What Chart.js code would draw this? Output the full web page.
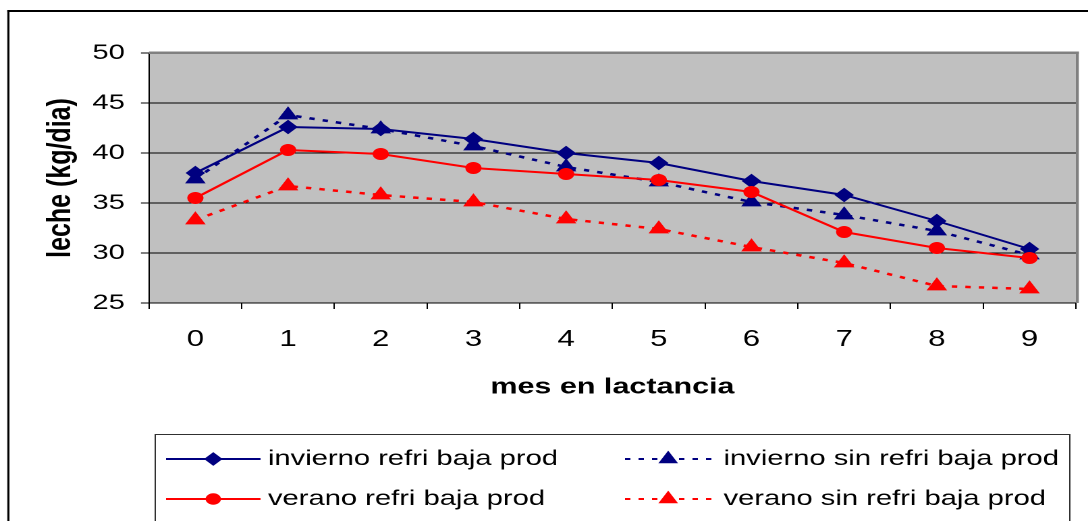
<!DOCTYPE html>
<html>
<head>
<meta charset="utf-8">
<script src="https://cdn.jsdelivr.net/npm/chart.js@4/dist/chart.umd.min.js"></script>
<style>
  html, body { margin: 0; padding: 0; background: #fff; overflow: hidden; }
  /* la imagen original esta estirada en horizontal */
  #marco { position: absolute; left: 0; top: 0; width: 806px; height: 521px;
           transform: scaleX(1.3499); transform-origin: 0 0; }
</style>
</head>
<body>
<div id="marco"><canvas id="graficoLeche"></canvas></div>
<script>
// Datos del grafico
const meses = ['0', '1', '2', '3', '4', '5', '6', '7', '8', '9'];
const inviernoRefri = [38.0, 42.6, 42.4, 41.4, 40.0, 39.0, 37.2, 35.8, 33.2, 30.4];
const inviernoSinRefri = [37.4, 43.8, 42.4, 40.7, 38.6, 37.1, 35.1, 33.8, 32.2, 29.8];
const veranoRefri = [35.5, 40.3, 39.9, 38.5, 37.9, 37.3, 36.1, 32.1, 30.5, 29.5];
const veranoSinRefri = [33.3, 36.7, 35.8, 35.1, 33.4, 32.4, 30.6, 29.0, 26.7, 26.4];
const etiquetasSerie = ['invierno refri baja prod', 'invierno sin refri baja prod',
                        'verano refri baja prod', 'verano sin refri baja prod'];

const AZUL = '#000080';
const ROJO = '#FF0000';
const FUENTE = "'Liberation Sans', Arial, sans-serif";

// fondo gris del area de trazado y marco exterior
const fondoPlugin = {
  id: 'fondo',
  beforeDraw(chart) {
    const { ctx, chartArea: a } = chart;
    ctx.save();
    ctx.fillStyle = '#C0C0C0';
    ctx.fillRect(a.left, a.top, a.right - a.left, a.bottom - a.top);
    ctx.fillStyle = '#000';
    ctx.fillRect(5.4, 10, 1.6, 600);
    ctx.fillRect(5.4, 10, 900, 2);
    ctx.restore();
  },
  afterDraw(chart) {
    const { ctx, chartArea: a } = chart;
    ctx.save();
    ctx.fillStyle = '#808080';
    ctx.fillRect(a.left, a.top - 1.5, a.right - a.left + 2.2, 2.5);
    ctx.fillRect(a.right, a.top - 1.5, 2.2, a.bottom - a.top + 1.5);
    ctx.restore();
  }
};

function marcador(ctx, estilo, r, x, y) {
  if (Chart.helpers && Chart.helpers.drawPoint) {
    Chart.helpers.drawPoint(ctx, { pointStyle: estilo, radius: r, rotation: 0, borderWidth: 1 }, x, y);
    return;
  }
  ctx.beginPath();
  if (estilo === 'circle') ctx.arc(x, y, r, 0, Math.PI * 2);
  else if (estilo === 'rectRot') { ctx.moveTo(x - r, y); ctx.lineTo(x, y - r); ctx.lineTo(x + r, y); ctx.lineTo(x, y + r); }
  else { ctx.moveTo(x, y - r); ctx.lineTo(x + r * 0.866, y + r / 2); ctx.lineTo(x - r * 0.866, y + r / 2); }
  ctx.closePath();
  ctx.fill();
  ctx.stroke();
}

// leyenda en dos columnas dentro de un recuadro
const leyendaPlugin = {
  id: 'leyenda',
  afterDraw(chart) {
    const ctx = chart.ctx;
    ctx.save();
    ctx.strokeStyle = '#303030';
    ctx.lineWidth = 1;
    ctx.strokeRect(115, 434.5, 677.5, 120);
    const cols = [{ x0: 123, x1: 193, tx: 198.5 }, { x0: 463, x1: 527, tx: 536 }];
    const filas = [459, 499];
    chart.data.datasets.forEach((ds, i) => {
      const c = cols[i % 2];
      const y = filas[Math.floor(i / 2)];
      ctx.strokeStyle = ds.borderColor;
      ctx.fillStyle = ds.borderColor;
      ctx.lineWidth = 2;
      ctx.setLineDash(ds.borderDash || []);
      ctx.beginPath();
      ctx.moveTo(c.x0, y);
      ctx.lineTo(c.x1, y);
      ctx.stroke();
      ctx.setLineDash([]);
      ctx.lineWidth = 1;
      marcador(ctx, ds.pointStyle, ds.pointRadius * 0.95, (c.x0 + c.x1) / 2, y);
      ctx.fillStyle = '#000';
      ctx.font = '21.6px ' + FUENTE;
      ctx.textAlign = 'left';
      ctx.textBaseline = 'middle';
      ctx.fillText(ds.label, c.tx, y);
    });
    ctx.restore();
  }
};

function serie(etiqueta, datos, color, estilo, radio, guiones, orden) {
  return {
    label: etiqueta,
    data: datos,
    borderColor: color,
    backgroundColor: color,
    borderWidth: guiones ? 2.5 : 2,
    borderDash: guiones,
    pointStyle: estilo,
    pointRadius: radio,
    pointBackgroundColor: color,
    pointBorderColor: color,
    pointBorderWidth: 1,
    tension: 0,
    order: orden
  };
}

const ctx = document.getElementById('graficoLeche').getContext('2d');
const grafico = new Chart(ctx, {
  type: 'line',
  data: {
    labels: meses,
    datasets: [
      serie(etiquetasSerie[0], inviernoRefri, AZUL, 'rectRot', 6.5, undefined, 4),
      serie(etiquetasSerie[1], inviernoSinRefri, AZUL, 'triangle', 7.8, [4, 6], 3),
      serie(etiquetasSerie[2], veranoRefri, ROJO, 'circle', 5.5, undefined, 2),
      serie(etiquetasSerie[3], veranoSinRefri, ROJO, 'triangle', 7.8, [4, 6], 1)
    ]
  },
  options: {
    responsive: true,
    maintainAspectRatio: false,
    animation: false,
    devicePixelRatio: 2,
    events: [],
    layout: { padding: { left: 0, top: 53, right: 9, bottom: 108 } },
    plugins: { legend: { display: false }, tooltip: { enabled: false } },
    scales: {
      x: {
        offset: true,
        afterFit: (s) => { s.height = 110; },
        grid: { display: true, offset: true, drawOnChartArea: false, drawTicks: true,
                tickLength: 6, color: '#000', tickColor: '#000' },
        border: { display: true, color: '#000', width: 1 },
        ticks: { color: '#000', padding: 17, maxRotation: 0, autoSkip: false,
                 font: { family: FUENTE, size: 23 } },
        title: { display: true, text: 'mes en lactancia', color: '#000',
                 padding: { top: 0, bottom: 12 },
                 font: { family: FUENTE, size: 22.6, weight: 'bold' } }
      },
      y: {
        min: 25,
        max: 50,
        afterFit: (s) => { s.width = 110.4; },
        grid: { color: '#000', tickColor: '#000', tickLength: 6, lineWidth: 1 },
        border: { display: true, color: '#000', width: 1 },
        ticks: { stepSize: 5, color: '#000', padding: 12,
                 font: { family: FUENTE, size: 21.5 } },
        title: { display: true, text: 'leche (kg/dia)', color: '#000',
                 padding: { top: 30, bottom: 0 },
                 font: { family: FUENTE, size: 25, weight: 'bold' } }
      }
    }
  },
  plugins: [fondoPlugin, leyendaPlugin]
});
</script>
</body>
</html>
